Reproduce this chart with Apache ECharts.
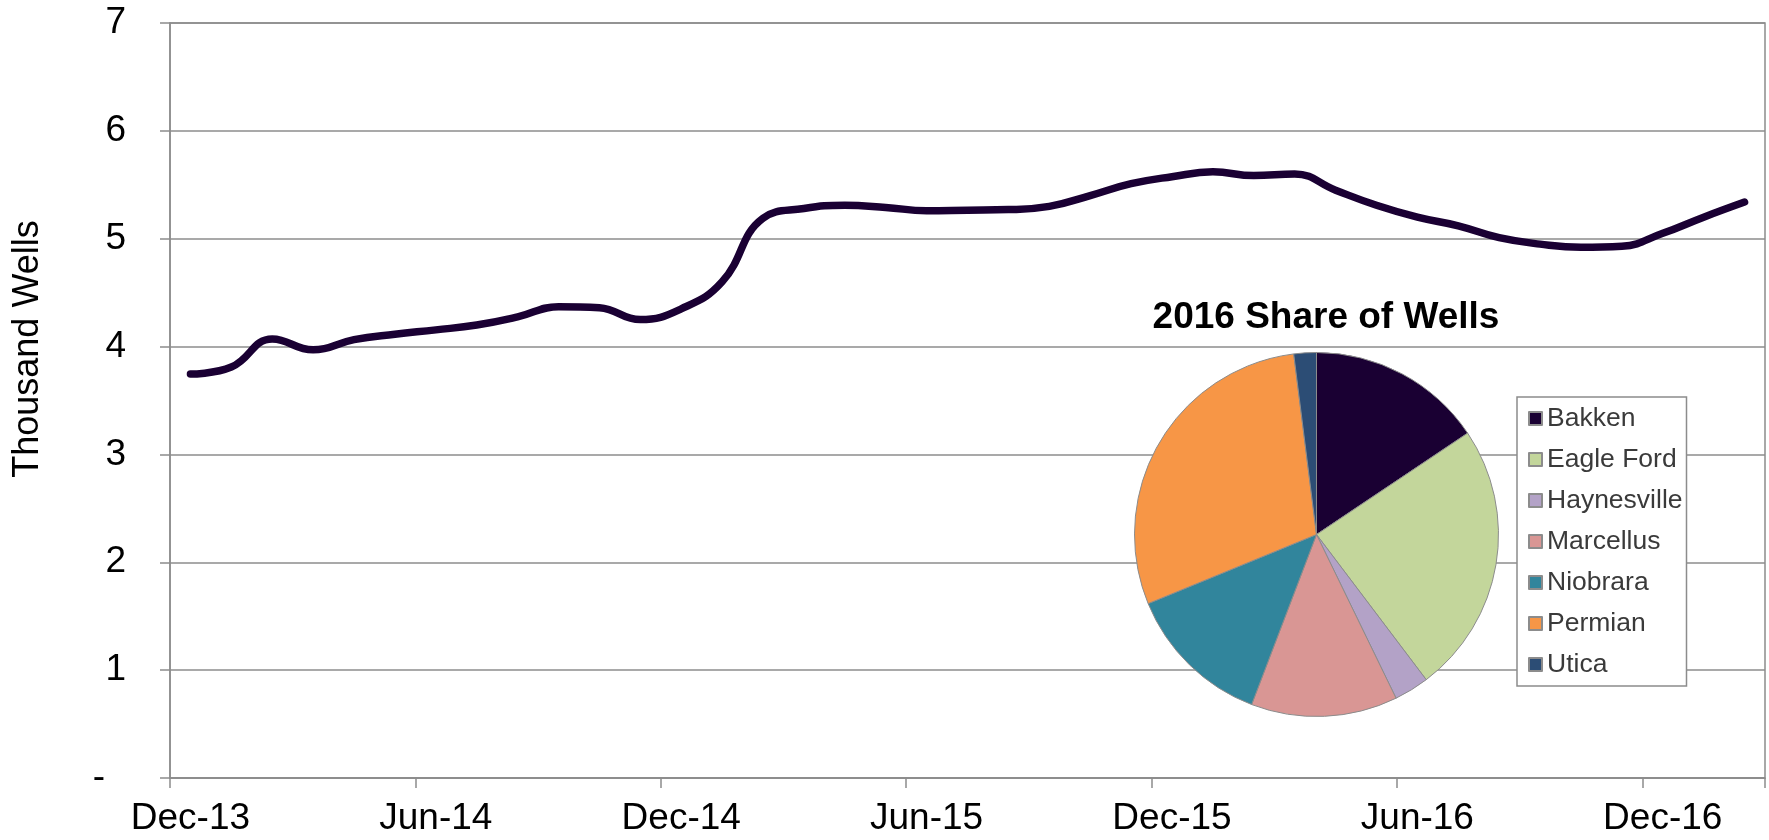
<!DOCTYPE html>
<html>
<head>
<meta charset="utf-8">
<script src="https://cdn.jsdelivr.net/npm/echarts@6/dist/echarts.min.js"></script>
<style>
  html, body { margin: 0; padding: 0; background: #fff; }
  #chart { width: 1769px; height: 840px; }
</style>
</head>
<body>
<div id="chart"></div>
<script>
// ---- data ----
const months = [
  'Dec-13','Jan-14','Feb-14','Mar-14','Apr-14','May-14','Jun-14','Jul-14','Aug-14','Sep-14','Oct-14','Nov-14',
  'Dec-14','Jan-15','Feb-15','Mar-15','Apr-15','May-15','Jun-15','Jul-15','Aug-15','Sep-15','Oct-15','Nov-15',
  'Dec-15','Jan-16','Feb-16','Mar-16','Apr-16','May-16','Jun-16','Jul-16','Aug-16','Sep-16','Oct-16','Nov-16',
  'Dec-16','Jan-17','Feb-17'
];
const wells = [
  3.745, 3.81, 4.07, 3.97, 4.065, 4.115, 4.155, 4.20, 4.275, 4.37, 4.36, 4.25,
  4.35, 4.60, 5.19, 5.28, 5.31, 5.29, 5.26, 5.265, 5.27, 5.30, 5.40, 5.51,
  5.575, 5.62, 5.585, 5.60, 5.45, 5.31, 5.20, 5.12, 5.01, 4.95, 4.92, 4.93,
  5.05, 5.20, 5.34
];
const basins = ['Bakken','Eagle Ford','Haynesville','Marcellus','Niobrara','Permian','Utica'];
const shares = [15.6, 24.1, 3.1, 13.0, 13.0, 29.2, 2.0];
const basinColors = ['#1a0033','#c3d69b','#b3a2c7','#d99694','#31859c','#f79646','#2c4d75'];
const pieTitle = '2016 Share of Wells';
const yAxisTitle = 'Thousand Wells';

const FONT = '"Liberation Sans", Arial, sans-serif';
const GRID_GREY = '#8c8c8c';

const chart = echarts.init(document.getElementById('chart'), null, { renderer: 'canvas' });

chart.setOption({
  animation: false,
  backgroundColor: '#ffffff',
  textStyle: { fontFamily: FONT },
  title: {
    text: pieTitle,
    left: 1326,
    top: 299,
    textAlign: 'center',
    padding: 0,
    textStyle: { fontFamily: FONT, fontSize: 37, fontWeight: 'bold', color: '#000000' }
  },
  grid: {
    left: 170, right: 4, top: 23, bottom: 62,
    show: true,
    borderColor: GRID_GREY,
    borderWidth: 1.5,
    outerBoundsMode: 'none',
    containLabel: false
  },
  xAxis: {
    type: 'category',
    data: months,
    boundaryGap: true,
    axisLine: { show: true, lineStyle: { color: GRID_GREY, width: 1.5 } },
    axisTick: { show: true, interval: 5, length: 10, lineStyle: { color: GRID_GREY, width: 1.5 } },
    axisLabel: { interval: 5, margin: 22, fontSize: 37, color: '#000000', fontFamily: FONT },
    splitLine: { show: false }
  },
  yAxis: {
    type: 'value',
    min: 0, max: 7, interval: 1,
    axisLine: { show: true, lineStyle: { color: GRID_GREY, width: 1.5 } },
    axisTick: { show: true, length: 10, lineStyle: { color: GRID_GREY, width: 1.5 } },
    axisLabel: {
      margin: 44, fontSize: 37, color: '#000000', fontFamily: FONT,
      formatter: function (v) { return v === 0 ? '{d|-}' : String(v); },
      rich: { d: { fontSize: 37, color: '#000000', fontFamily: FONT, padding: [0, 21, 0, 0] } }
    },
    splitLine: { show: true, lineStyle: { color: GRID_GREY, width: 1.5 } }
  },
  legend: {
    orient: 'vertical',
    left: 1517,
    top: 397,
    data: basins,
    icon: 'rect',
    itemWidth: 13,
    itemHeight: 13,
    itemGap: 14,
    padding: [8, 4, 8, 11],
    backgroundColor: '#ffffff',
    borderColor: GRID_GREY,
    borderWidth: 1.5,
    borderRadius: 0,
    textStyle: { fontSize: 26.5, color: '#3a3a3a', fontFamily: FONT, lineHeight: 24 }
  },
  graphic: [{
    type: 'text',
    x: 28, y: 349,
    rotation: Math.PI / 2,
    style: {
      text: yAxisTitle,
      font: '36px "Liberation Sans", Arial, sans-serif',
      fill: '#000000',
      align: 'center', verticalAlign: 'middle',
      textAlign: 'center', textVerticalAlign: 'middle'
    }
  }],
  series: [
    {
      type: 'line',
      data: wells,
      smooth: 0.45,
      symbol: 'none',
      lineStyle: { color: '#1a0033', width: 7.5, cap: 'round', join: 'round' },
      itemStyle: { color: '#1a0033' },
      z: 3
    },
    {
      type: 'pie',
      center: [1316.5, 534.5],
      radius: 182,
      startAngle: 90,
      clockwise: true,
      label: { show: false },
      labelLine: { show: false },
      emphasis: { disabled: true },
      itemStyle: { borderColor: GRID_GREY, borderWidth: 1 },
      data: basins.map((b, i) => ({ name: b, value: shares[i], itemStyle: { color: basinColors[i] } })),
      z: 4
    }
  ]
});
</script>
</body>
</html>
